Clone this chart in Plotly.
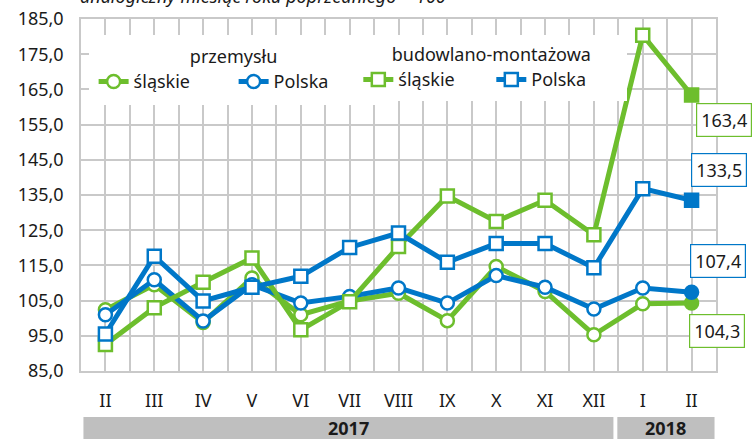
import plotly.graph_objects as go

# ---- data ----
months = ["II", "III", "IV", "V", "VI", "VII", "VIII", "IX", "X", "XI", "XII", "I", "II"]
years = ["2017"] * 11 + ["2018"] * 2
prz_slaskie = [102.4, 109.5, 98.8, 111.4, 101.0, 104.9, 107.1, 99.3, 114.7, 107.6, 95.3, 104.1, 104.3]
prz_polska = [101.0, 110.9, 99.2, 109.5, 104.3, 106.2, 108.6, 104.3, 112.1, 108.8, 102.6, 108.6, 107.4]
bud_slaskie = [92.5, 103.0, 110.2, 117.1, 96.7, 104.7, 120.4, 134.7, 127.5, 133.5, 123.7, 180.4, 163.4]
bud_polska = [95.5, 117.6, 104.9, 108.8, 111.9, 120.1, 124.2, 115.9, 121.2, 121.2, 114.3, 136.8, 133.5]
y_ticks = [85, 95, 105, 115, 125, 135, 145, 155, 165, 175, 185]

GREEN = "#6DBE2D"
BLUE = "#0077C8"
FONT = "Noto Sans"
TXT = "#1a1a1a"
GRID = "#C9C9C9"

x = list(range(len(months)))

def marker(symbol, color, n):
    fills = ["white"] * (n - 1) + [color]
    return dict(symbol=symbol, size=13, color=fills, line=dict(color=color, width=2.5))

fig = go.Figure()
series = [
    ("śląskie", prz_slaskie, GREEN, "circle", "legend"),
    ("Polska", prz_polska, BLUE, "circle", "legend"),
    ("śląskie", bud_slaskie, GREEN, "square", "legend2"),
    ("Polska", bud_polska, BLUE, "square", "legend2"),
]
for name, vals, col, sym, leg in series:
    fig.add_trace(go.Scatter(
        x=x, y=vals, name=name, mode="lines+markers",
        line=dict(color=col, width=5),
        marker=marker(sym, col, len(vals)),
        legend=leg, cliponaxis=False,
    ))

def fmt(v):
    return f"{v:.1f}".replace(".", ",")

last = x[-1]
labels = [
    (bud_slaskie[-1], GREEN, "top", -8, 4),
    (bud_polska[-1], BLUE, "bottom", 13, -1),
    (prz_polska[-1], BLUE, "bottom", 14, -2),
    (prz_slaskie[-1], GREEN, "top", -11, -3),
]
for v, col, ya, ys, xs in labels:
    fig.add_annotation(
        x=last, y=v, text=fmt(v), showarrow=False,
        xanchor="left", yanchor=ya, xshift=xs, yshift=ys,
        bgcolor="white", bordercolor=col, borderwidth=1.2, borderpad=4,
        font=dict(family=FONT, size=18, color=TXT),
    )

# year bands
bands = [("2017", -0.45, 10.4), ("2018", 10.48, 12.47)]
for label, x0, x1 in bands:
    fig.add_shape(type="rect", xref="x", yref="paper", x0=x0, x1=x1, y0=-0.195, y1=-0.131,
                  fillcolor="#BFBFBF", line=dict(width=0), layer="above")
    fig.add_annotation(x=(x0 + x1) / 2, y=-0.163, xref="x", yref="paper", text=f"<b>{label}</b>",
                       showarrow=False, xanchor="center", yanchor="middle",
                       font=dict(family=FONT, size=18, color=TXT))

# title (partially cut at top, as in the source)
fig.add_annotation(xref="paper", yref="paper", x=-0.005, y=1, yshift=9, xanchor="left", yanchor="bottom",
                   text="<i>analogiczny miesiąc roku poprzedniego = 100</i>", showarrow=False,
                   font=dict(family=FONT, size=18, color=TXT))

fig.update_layout(
    width=753, height=439,
    margin=dict(l=81, r=37, t=19, b=68, autoexpand=False),
    paper_bgcolor="white", plot_bgcolor="white",
    separators=", ",
    font=dict(family=FONT, size=18, color=TXT),
    xaxis=dict(
        range=[-0.5, 12.5], tickmode="array", tickvals=x, ticktext=months,
        showgrid=True, gridcolor=GRID, gridwidth=1.5,
        minor=dict(tickmode="linear", tick0=-0.5, dtick=1, showgrid=True, gridcolor=GRID, gridwidth=1.5),
        showline=True, linecolor=GRID, linewidth=1.5, mirror=True,
        ticks="", zeroline=False, ticklabelstandoff=13,
        tickfont=dict(family=FONT, size=18, color=TXT),
    ),
    yaxis=dict(
        range=[85, 185], tickmode="array", tickvals=y_ticks, tickformat=".1f",
        showgrid=True, gridcolor=GRID, gridwidth=1.5,
        showline=True, linecolor=GRID, linewidth=1.5, mirror=True,
        ticks="", zeroline=False, ticklabelstandoff=12,
        tickfont=dict(family=FONT, size=18, color=TXT),
    ),
    legend=dict(
        orientation="h", x=0.012, y=0.955, xanchor="left", yanchor="top",
        bgcolor="white", bordercolor="white", borderwidth=5, entrywidth=95,
        title=dict(text="przemysłu", side="top center", font=dict(family=FONT, size=18, color=TXT)),
        font=dict(family=FONT, size=18, color=TXT),
    ),
    legend2=dict(
        orientation="h", x=0.432, y=0.955, xanchor="left", yanchor="top",
        bgcolor="white", bordercolor="white", borderwidth=3, entrywidth=88,
        title=dict(text="budowlano-montażowa", side="top center", font=dict(family=FONT, size=18, color=TXT)),
        font=dict(family=FONT, size=18, color=TXT),
    ),
    showlegend=True,
)

fig.write_html("out.html", config={"displayModeBar": False},
               post_script="document.body.style.margin='0px';")
